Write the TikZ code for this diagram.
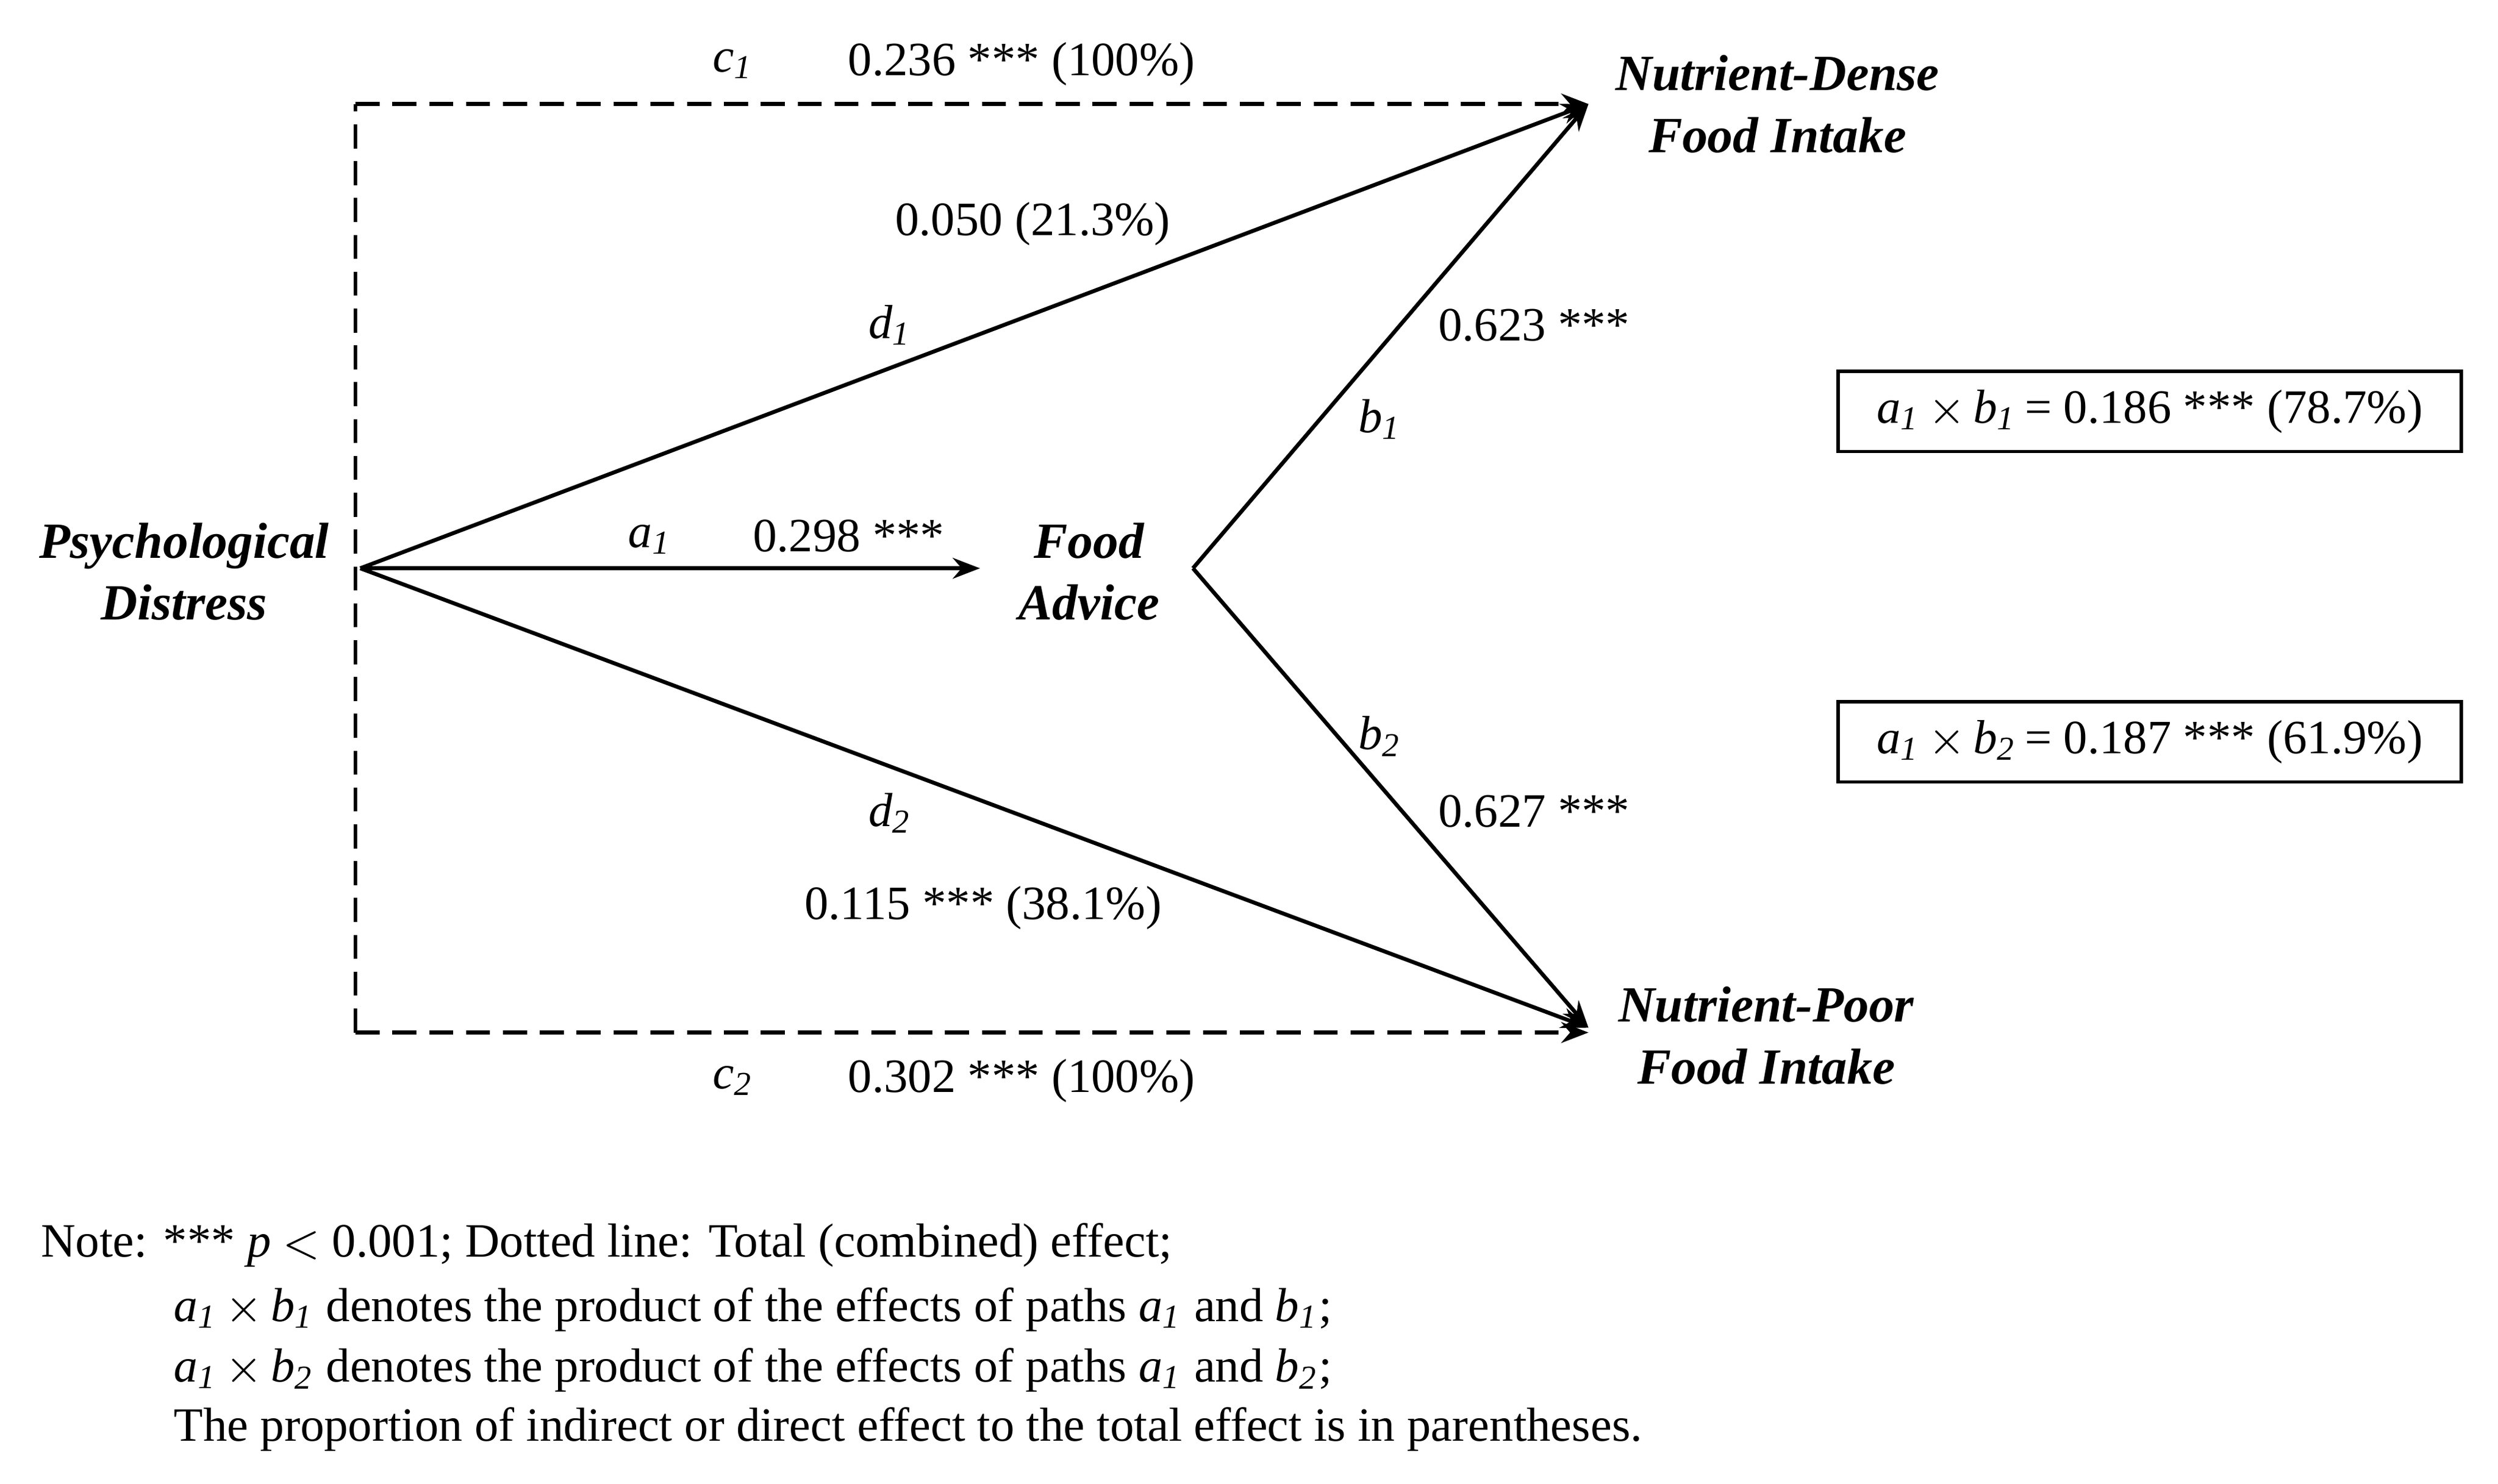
\documentclass[tikz,border=0pt]{standalone}
\usepackage{fontspec}
\setmainfont{Liberation Serif}
\usetikzlibrary{arrows.meta}
\newcommand{\vsb}[2]{\textit{#1}\textsubscript{\textit{#2}}}
\begin{document}
\begin{tikzpicture}[x=0.01cm,y=-0.01cm,
  every node/.style={font=\fontsize{8.5}{10.5}\selectfont, inner sep=0pt},
  ln/.style={line width=0.7pt},
  arr/.style={ln,-{Stealth[length=0.17cm,width=0.13cm]}},
  dsh/.style={ln,dash pattern=on 0.15cm off 0.08cm},
  var/.style={font=\fontsize{9}{11}\selectfont\bfseries\itshape, align=center},
  box/.style={draw, line width=0.6pt, minimum width=3.89cm, minimum height=0.5cm}]
\useasboundingbox (0,0) rectangle (1560,927);
\coordinate (o) at (225,355);
\coordinate (tl) at (222,65);
\coordinate (bl) at (222,645);
\coordinate (nd) at (992,65);
\coordinate (np) at (992,642);
\coordinate (fa) at (612,355);
\coordinate (ap) at (745,355);
\coordinate (ndb) at (992,645);
\node[var] (PD) at (115,357) {Psychological\\Distress};
\node[var] (FA) at (680,357) {Food\\Advice};
\node[var] (ND) at (1110,65) {Nutrient-Dense\\Food Intake};
\node[var] (NP) at (1103,647) {Nutrient-Poor\\Food Intake};
\draw[dsh] (bl) -- (tl);
\draw[dsh,-{Stealth[length=0.17cm,width=0.13cm]}] (tl) -- (nd);
\draw[dsh,-{Stealth[length=0.17cm,width=0.13cm]}] (bl) -- (ndb);
\draw[arr] (o) -- (nd);
\draw[arr] (o) -- (np);
\draw[arr] (o) -- (fa);
\draw[arr] (ap) -- (nd);
\draw[arr] (ap) -- (np);
\node (lc1) at (458,40) {\vsb{c}{1}};
\node (vc1) at (638,40) {0.236 *** (100\%)};
\node (vd1) at (645,140) {0.050 (21.3\%)};
\node (ld1) at (556,203) {\vsb{d}{1}};
\node (vb1) at (958,203) {0.623 ***};
\node (lb1) at (862,262) {\vsb{b}{1}};
\node (la1) at (406,337) {\vsb{a}{1}};
\node (va1) at (530,335) {0.298 ***};
\node (lb2) at (862,460) {\vsb{b}{2}};
\node (vb2) at (958,507) {0.627 ***};
\node (ld2) at (556,508) {\vsb{d}{2}};
\node (vd2) at (614,567) {0.115 *** (38.1\%)};
\node (lc2) at (458,675) {\vsb{c}{2}};
\node (vc2) at (638,675) {0.302 *** (100\%)};
\node[box] (B1) at (1342.5,257) {\vsb{a}{1}\,$\times$\,\vsb{b}{1}\,= 0.186 *** (78.7\%)};
\node[box] (B2) at (1342.5,463.5) {\vsb{a}{1}\,$\times$\,\vsb{b}{2}\,= 0.187 *** (61.9\%)};
\node[anchor=west] (n1) at (25,778) {Note: *** \textit{p} $<$ 0.001; Dotted line: Total (combined) effect;};
\node[anchor=west] (n2) at (108,818) {\vsb{a}{1}\,$\times$\,\vsb{b}{1} denotes the product of the effects of paths \vsb{a}{1} and \vsb{b}{1};};
\node[anchor=west] (n3) at (108,856) {\vsb{a}{1}\,$\times$\,\vsb{b}{2} denotes the product of the effects of paths \vsb{a}{1} and \vsb{b}{2};};
\node[anchor=west] (n4) at (108,893) {The proportion of indirect or direct effect to the total effect is in parentheses.};
\end{tikzpicture}
\end{document}
